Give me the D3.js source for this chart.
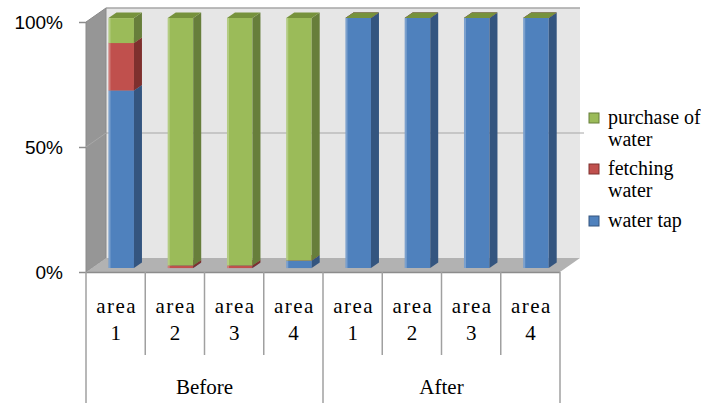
<!DOCTYPE html>
<html>
<head>
<meta charset="utf-8">
<script src="https://cdn.jsdelivr.net/npm/d3@7"></script>
<style>
  body { margin: 0; background: #fff; }
  svg { display: block; }
  .serif { font-family: "Liberation Serif", "Times New Roman", serif; }
</style>
</head>
<body>
<div id="chart"></div>
<script>
const areaLabels = ["1", "2", "3", "4", "1", "2", "3", "4"]
const groupLabels = ["Before", "After"]
const seriesNames = ["water tap", "fetching water", "purchase of water"]
const waterTap = [71, 0, 0, 3, 100, 100, 100, 100]
const fetchingWater = [19, 1, 1, 0, 0, 0, 0, 0]
const purchaseOfWater = [10, 99, 99, 97, 0, 0, 0, 0]
const yTicks = [0, 50, 100]

const width = 701
const height = 403

// depth of the 3d box and where the bars sit inside it
const depthX = 20, depthY = -14
const barFront = 0.28, barBack = 0.68

const colors = {
    "water tap": { front: "#4F81BD", side: "#34557F", top: "#416C9E" },
    "fetching water": { front: "#C0504D", side: "#7E302E", top: "#A3403D" },
    "purchase of water": { front: "#9BBB59", side: "#677E3B", top: "#76923C" }
}

const svg = d3.select("#chart")
    .append("svg")
    .attr("width", width)
    .attr("height", height)

const x = d3.scaleBand()
    .domain(d3.range(areaLabels.length))
    .range([86, 560])

const y = d3.scaleLinear()
    .domain([0, 100])
    .range([272, 22])

const pt = (px, py, t) => [px + depthX * t, py + depthY * t]
const poly = pts => pts.map(p => p.join(",")).join(" ")

const x0 = x.range()[0], x1 = x.range()[1]

// back wall
svg.append("polygon")
    .attr("points", poly([pt(x0, y(100), 1), pt(x1, y(100), 1), pt(x1, y(0), 1), pt(x0, y(0), 1)]))
    .attr("fill", "#E6E6E6")
svg.append("line")
    .attr("x1", pt(x0, y(100), 1)[0]).attr("x2", pt(x1, y(100), 1)[0])
    .attr("y1", pt(x0, y(100), 1)[1]).attr("y2", pt(x1, y(100), 1)[1])
    .attr("stroke", "#A6A6A6").attr("stroke-width", 1.5)

// back wall gridlines
svg.selectAll(".grid")
    .data(yTicks.filter(d => d > 0 && d < 100))
    .enter().append("line")
    .attr("class", "grid")
    .attr("x1", d => pt(x0, y(d), 1)[0]).attr("x2", d => pt(x1, y(d), 1)[0] + 4)
    .attr("y1", d => pt(x0, y(d), 1)[1]).attr("y2", d => pt(x1, y(d), 1)[1])
    .attr("stroke", "#A6A6A6").attr("stroke-width", 1)

// left wall
svg.append("polygon")
    .attr("points", poly([pt(x0, y(100), 0), pt(x0, y(100), 1), pt(x0, y(0), 1), pt(x0, y(0), 0)]))
    .attr("fill", "#969696")
    .attr("stroke", "#8A8A8A")
svg.selectAll(".wallgrid")
    .data(yTicks.filter(d => d > 0 && d < 100))
    .enter().append("line")
    .attr("x1", d => pt(x0, y(d), 0)[0]).attr("x2", d => pt(x0, y(d), 1)[0])
    .attr("y1", d => pt(x0, y(d), 0)[1]).attr("y2", d => pt(x0, y(d), 1)[1])
    .attr("stroke", "#A8A8A8")

// floor
svg.append("polygon")
    .attr("points", poly([pt(x0, y(0), 0), pt(x0, y(0), 1), pt(x1, y(0), 1), pt(x1, y(0), 0)]))
    .attr("fill", "#B2B2B2")
svg.append("line")
    .attr("x1", x0).attr("x2", x1)
    .attr("y1", y(0) + 0.5).attr("y2", y(0) + 0.5)
    .attr("stroke", "#8C8C8C").attr("stroke-width", 1.5)

// stacked 3d bars
const rows = areaLabels.map((d, i) => ({
    "water tap": waterTap[i],
    "fetching water": fetchingWater[i],
    "purchase of water": purchaseOfWater[i]
}))
const stack = d3.stack().keys(seriesNames)(rows)
const barW = x.bandwidth() * 0.43

areaLabels.forEach((lab, i) => {
    const left = x(i) + (x.bandwidth() - barW) / 2
    const right = left + barW
    stack.forEach(layer => {
        const c = colors[layer.key]
        const [lo, hi] = layer[i]
        const g = svg.append("g")
        if (hi > lo) {
            g.append("polygon")
                .attr("points", poly([pt(left, y(hi), barFront), pt(right, y(hi), barFront), pt(right, y(lo), barFront), pt(left, y(lo), barFront)]))
                .attr("fill", c.front)
            g.append("line")
                .attr("x1", pt(left, 0, barFront)[0] + 1).attr("x2", pt(left, 0, barFront)[0] + 1)
                .attr("y1", pt(0, y(hi), barFront)[1]).attr("y2", pt(0, y(lo), barFront)[1])
                .attr("stroke", "#fff").attr("stroke-opacity", 0.25).attr("stroke-width", 2)
            g.append("polygon")
                .attr("points", poly([pt(right, y(hi), barFront), pt(right, y(hi), barBack), pt(right, y(lo), barBack), pt(right, y(lo), barFront)]))
                .attr("fill", c.side)
        }
        g.append("polygon")
            .attr("points", poly([pt(left, y(hi), barFront), pt(left, y(hi), barBack), pt(right, y(hi), barBack), pt(right, y(hi), barFront)]))
            .attr("fill", c.top)
    })
})

// y axis
const yAxis = svg.append("g")
    .attr("transform", `translate(${x0},0)`)
    .call(d3.axisLeft(y).tickValues(yTicks).tickFormat(d => d + "%").tickSize(7).tickPadding(16))
yAxis.select(".domain").remove()
yAxis.selectAll("line").attr("stroke", "#8C8C8C").attr("stroke-width", 1.5)
yAxis.selectAll("text")
    .style("font-family", "'Liberation Sans', Arial, sans-serif")
    .style("font-size", "19px")
    .attr("fill", "#000")

// category axis: grid of label boxes
const cat = svg.append("g")
cat.selectAll(".inner")
    .data(d3.range(1, areaLabels.length).filter(i => i !== 4))
    .enter().append("line")
    .attr("x1", i => x(i)).attr("x2", i => x(i))
    .attr("y1", y(0)).attr("y2", 355)
    .attr("stroke", "#A0A0A0").attr("stroke-width", 1.5)
cat.selectAll(".outer")
    .data([0, 4, areaLabels.length])
    .enter().append("line")
    .attr("x1", i => i === areaLabels.length ? x1 : x(i))
    .attr("x2", i => i === areaLabels.length ? x1 : x(i))
    .attr("y1", y(0)).attr("y2", height)
    .attr("stroke", "#A0A0A0").attr("stroke-width", 1.5)

const catText = cat.selectAll(".lab")
    .data(areaLabels)
    .enter().append("text")
    .attr("class", "serif")
    .attr("text-anchor", "middle")
    .style("font-size", "21px")
catText.append("tspan")
    .attr("x", (d, i) => x(i) + x.bandwidth() / 2 + 1)
    .attr("y", 313)
    .attr("letter-spacing", 1.5)
    .text("area")
catText.append("tspan")
    .attr("x", (d, i) => x(i) + x.bandwidth() / 2)
    .attr("y", 340)
    .text(d => d)

cat.selectAll(".grp")
    .data(groupLabels)
    .enter().append("text")
    .attr("class", "serif")
    .attr("x", (d, i) => (x(i * 4) + (i === 1 ? x1 : x(4))) / 2)
    .attr("y", 394)
    .attr("text-anchor", "middle")
    .style("font-size", "21px")
    .text(d => d)

// legend
const legendItems = [
    { key: "purchase of water", lines: ["purchase of", "water"], y: 118 },
    { key: "fetching water", lines: ["fetching", "water"], y: 169 },
    { key: "water tap", lines: ["water tap"], y: 221 }
]
const legend = svg.selectAll(".legend")
    .data(legendItems)
    .enter().append("g")
    .attr("class", "legend")
    .attr("transform", d => `translate(589,${d.y})`)
legend.append("rect")
    .attr("x", 0).attr("y", -5)
    .attr("width", 10).attr("height", 10)
    .attr("fill", d => colors[d.key].front)
    .attr("stroke", d => colors[d.key].side)
legend.append("text")
    .attr("class", "serif")
    .style("font-size", "20px")
    .selectAll("tspan")
    .data(d => d.lines)
    .enter().append("tspan")
    .attr("x", 19)
    .attr("y", (d, i) => 6 + i * 22)
    .text(d => d)
</script>
</body>
</html>
